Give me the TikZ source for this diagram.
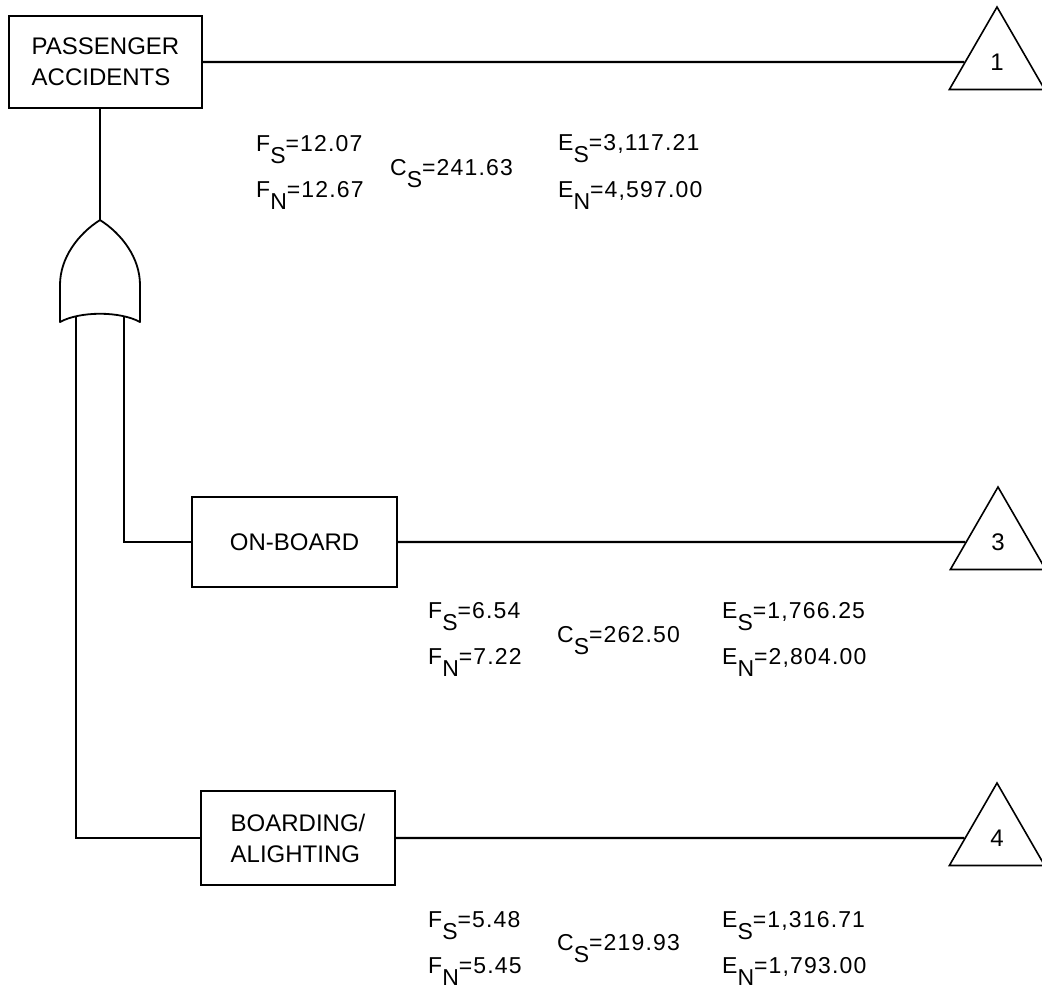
\documentclass[tikz,border=0pt]{standalone}
\usepackage{fontspec}
\setmainfont{Liberation Sans}
\newfontfamily\numfont[LetterSpace=5]{Liberation Sans}
\usetikzlibrary{shapes.geometric}
\newcommand\val[3]{#1\raisebox{-12.5pt}{#2}=#3}
\begin{document}
\begin{tikzpicture}[x=1pt,y=-1pt,
  box/.style={draw, line width=1.6pt, font=\fontsize{24}{31}\selectfont, align=left, inner sep=0pt},
  tri/.style={draw, line width=1.6pt, regular polygon, regular polygon sides=3, minimum size=110pt, inner sep=0pt, font=\fontsize{24}{28}\selectfont},
  conn/.style={line width=2.4pt},
  gate/.style={draw, line width=1.8pt, line join=round},
  num/.style={anchor=base west, inner sep=0pt, font=\numfont\fontsize{23}{26}\selectfont}]
\useasboundingbox (0,0) rectangle (1042,989);

% boxes
\node[box, minimum width=193pt, minimum height=92pt] (pa) at (105.5,62) {PASSENGER\\ACCIDENTS};
\node[box, minimum width=205pt, minimum height=90pt] (ob) at (294.5,542) {ON-BOARD};
\node[box, minimum width=194pt, minimum height=94pt] (ba) at (298,838) {BOARDING/\\ALIGHTING};

% transfer triangles
\node[tri] (t1) at (997,62) {1};
\node[tri] (t3) at (998,542) {3};
\node[tri] (t4) at (997,838) {4};

% OR gate
\draw[gate] (100,220) .. controls (78,234) and (60,258) .. (60,285) -- (60,322)
  .. controls (80,311) and (120,311) .. (140,322) -- (140,285)
  .. controls (140,258) and (122,234) .. (100,220) -- cycle;
\coordinate (gtop) at (100,220);
\coordinate (gin1) at (76,317);
\coordinate (gin2) at (124,317);

% connectors
\draw[conn] (pa.south -| gtop) -- (gtop);
\draw[conn] (gin2) |- (ob.west);
\draw[conn] (gin1) |- (ba.west);
\draw[conn] (pa.east) -- (t1);
\draw[conn] (ob.east) -- (t3);
\draw[conn] (ba.east) -- (t4);

% values
\node[num] (fs1) at (256,151) {\val{F}{S}{12.07}};
\node[num] (fn1) at (256,197) {\val{F}{N}{12.67}};
\node[num] (cs1) at (390,175) {\val{C}{S}{241.63}};
\node[num] (es1) at (558,150) {\val{E}{S}{3,117.21}};
\node[num] (en1) at (558,197) {\val{E}{N}{4,597.00}};

\node[num] (fs3) at (428,618) {\val{F}{S}{6.54}};
\node[num] (fn3) at (428,664) {\val{F}{N}{7.22}};
\node[num] (cs3) at (557,642) {\val{C}{S}{262.50}};
\node[num] (es3) at (722,618) {\val{E}{S}{1,766.25}};
\node[num] (en3) at (722,664) {\val{E}{N}{2,804.00}};

\node[num] (fs4) at (428,927) {\val{F}{S}{5.48}};
\node[num] (fn4) at (428,973) {\val{F}{N}{5.45}};
\node[num] (cs4) at (557,950) {\val{C}{S}{219.93}};
\node[num] (es4) at (722,927) {\val{E}{S}{1,316.71}};
\node[num] (en4) at (722,973) {\val{E}{N}{1,793.00}};
\end{tikzpicture}
\end{document}
